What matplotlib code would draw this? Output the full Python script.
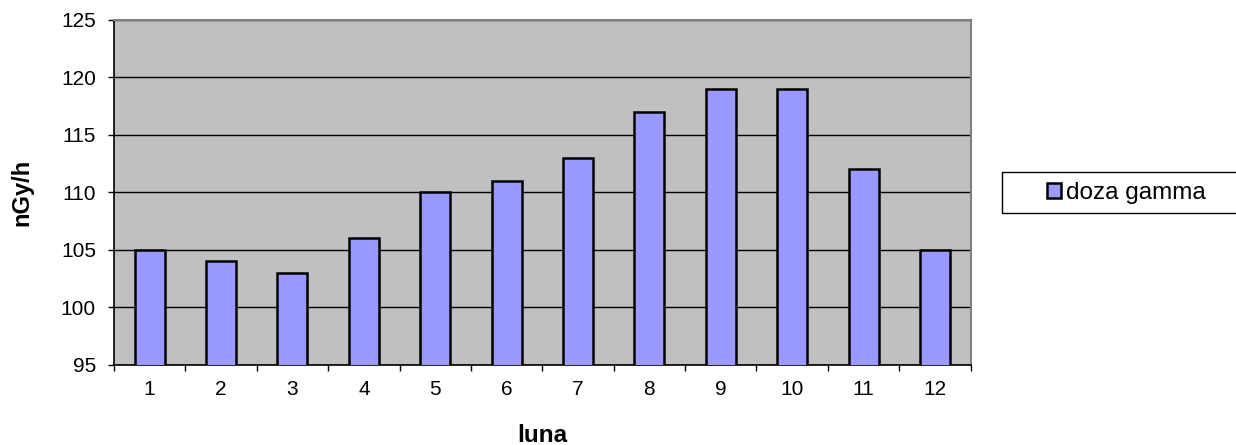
import matplotlib.pyplot as plt
from matplotlib.patches import Rectangle
import numpy as np

plt.rcParams['font.family'] = ['Liberation Sans', 'DejaVu Sans']

# months and gamma dose values
luna = ['1', '2', '3', '4', '5', '6', '7', '8', '9', '10', '11', '12']
doza = [105, 104, 103, 106, 110, 111, 113, 117, 119, 119, 112, 105]

fig = plt.figure(figsize=(12.36, 4.45), dpi=100)
ax = fig.add_axes([0.0922, 0.1798, 0.6931, 0.7753])
ax.set_facecolor('#C0C0C0')

x = np.arange(len(luna))
ax.bar(x, doza, width=0.42, color='#9999FF', edgecolor='black', linewidth=1.8,
       label='doza gamma', zorder=3)

ax.set_ylim(95, 125)
ax.set_xlim(-0.5, len(luna) - 0.5)
ax.set_yticks(range(95, 126, 5))
ax.yaxis.grid(True, color='black', linewidth=1, zorder=1)

# labels under categories, ticks between them
ax.set_xticks(x)
ax.set_xticklabels(luna)
ax.set_xticks(np.arange(-0.5, len(luna)), minor=True)
ax.tick_params(axis='x', which='major', length=0, pad=11, labelsize=15)
ax.tick_params(axis='x', which='minor', length=4.5, width=1)
ax.tick_params(axis='y', length=4.5, width=1, pad=8.5, labelsize=15)

for s in ['top', 'right']:
    ax.spines[s].set_color('#808080')
    ax.spines[s].set_linewidth(1.5)
ax.spines['left'].set_linewidth(1.2)
ax.spines['bottom'].set_linewidth(1.2)

ax.set_xlabel('luna', fontsize=17.5, fontweight='bold')
ax.xaxis.set_label_coords(0.5, -0.172)
ax.set_ylabel('nGy/h', fontsize=17, fontweight='bold')
ax.yaxis.set_label_coords(-0.094, 0.5)

# legend, frame drawn separately since it runs off the right edge
leg = ax.legend(loc='center left', bbox_to_anchor=(1047 / 1236, 0.567),
                bbox_transform=fig.transFigure, fontsize=17.5, frameon=False,
                handlelength=0.57, handleheight=0.57, handletextpad=0.2,
                borderpad=0, borderaxespad=0)
for h in leg.legend_handles:
    h.set_linewidth(1.8)
fig.patches.append(Rectangle((1002 / 1236, 1 - 213 / 445), 260 / 1236, 41 / 445,
                             transform=fig.transFigure, fill=False,
                             edgecolor='black', linewidth=1))

fig.savefig('out.png', dpi=100)
